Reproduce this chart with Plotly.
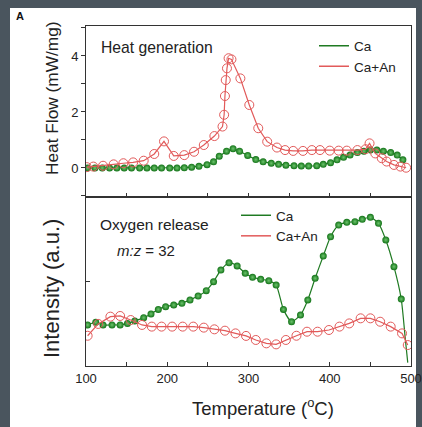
import plotly.graph_objects as go

# ---------------- data ----------------
T_heat_ca = [102,111,120,129,138,147,156,166,175,184,193,203,212,221,230,239,249,257,264,273,
             281,289,299,309,318,328,337,346,356,365,374,384,392,401,409,417,425,434,442,450,
             458,466,475,483,490]
heat_ca = [0,0,0,0,0,0,0,0,0,0,0,0,0,0.01,0.03,0.06,0.12,0.22,0.42,0.6,
           0.69,0.6,0.45,0.3,0.22,0.17,0.13,0.1,0.08,0.07,0.07,0.08,0.13,0.19,0.29,0.38,0.46,0.55,0.6,0.64,
           0.64,0.6,0.55,0.46,0.29]

T_heat_an = [101,109,121,134,146,158,171,184,196,208,221,233,245,258,268,270,271,272,273.5,275.5,
             279,290,301,312,323,335,345,355,367,378,388,400,411,421,434,444,449,456,464,470,
             479,487,494]
heat_an = [0.03,0.05,0.08,0.13,0.17,0.2,0.26,0.5,0.95,0.43,0.46,0.58,0.82,1.14,1.48,1.9,2.57,3.14,3.56,3.92,
           3.88,3.2,2.25,1.42,0.94,0.73,0.64,0.61,0.61,0.64,0.64,0.62,0.62,0.62,0.64,0.67,0.88,0.52,0.35,0.23,
           0.11,0.05,0.01]

T_o2_ca = [102,112,121,132,142,151,160,171,180,189,198,208,218,228,238,248,257,266,276,286,
           296,305,315,325,334,343,353,364,373,382,392,401,411,421,431,440,450,460,469,479,
           488,493,496]
o2_ca = [2.43,2.59,2.43,2.43,2.43,2.52,2.66,2.86,3.08,3.35,3.51,3.61,3.71,3.91,4.14,4.46,4.99,5.68,6.11,5.92,
         5.49,5.25,5.13,5.05,4.79,3.35,2.62,3.02,3.91,5.19,6.51,7.65,8.34,8.5,8.54,8.68,8.8,8.44,7.46,5.88,
         3.96,1.6,0.2]

T_o2_an = [102,115,130,142,155,169,181,193,206,219,232,245,258,271,284,297,309,322,334,346,
           359,372,385,399,412,424,438,450,462,475,489,496]
o2_an = [1.79,2.49,2.92,2.96,2.72,2.43,2.33,2.33,2.33,2.33,2.33,2.27,2.17,2.09,1.93,1.78,1.54,1.34,1.28,1.54,
         1.79,2.03,2.03,2.13,2.33,2.52,2.82,2.82,2.62,2.33,1.93,1.24]

series_names = ["Ca", "Ca+An"]
x_ticks = [100, 150, 200, 250, 300, 350, 400, 450, 500]
x_ticklabels = ["100", "", "200", "", "300", "", "400", "", "500"]
y_heat_ticks = [-1, 0, 1, 2, 3, 4, 5]
y_heat_labels = ["", "0", "", "2", "", "4", ""]

# ---------------- style ----------------
FONT = "Liberation Sans, Arial, sans-serif"
GREEN_LINE = "#1f7a22"
GREEN_MK = "#137318"
GREEN_HI = "#6cc46c"
RED = "#e25a5a"
AX = "#333333"
TXT = "#222222"

fig = go.Figure()

def green_markers(x, y, xa, ya):
    return go.Scatter(x=x, y=y, xaxis=xa, yaxis=ya, mode="markers", showlegend=False,
                      marker=dict(size=7, color=GREEN_MK,
                                  gradient=dict(type="radial", color=GREEN_HI),
                                  line=dict(width=0)))

# upper panel
fig.add_trace(go.Scatter(x=T_heat_ca, y=heat_ca, xaxis="x", yaxis="y", mode="lines",
                         line=dict(color=GREEN_LINE, width=1.2), showlegend=False))
fig.add_trace(green_markers(T_heat_ca, heat_ca, "x", "y"))
fig.add_trace(go.Scatter(x=T_heat_an, y=heat_an, xaxis="x", yaxis="y", mode="lines+markers",
                         line=dict(color=RED, width=1.2), showlegend=False,
                         marker=dict(symbol="circle-open", size=9, color=RED, line=dict(width=1))))

# lower panel
fig.add_trace(go.Scatter(x=T_o2_ca, y=o2_ca, xaxis="x2", yaxis="y2", mode="lines",
                         line=dict(color=GREEN_LINE, width=1.2, shape="spline", smoothing=0.6),
                         showlegend=False))
fig.add_trace(green_markers(T_o2_ca[:-2], o2_ca[:-2], "x2", "y2"))
fig.add_trace(go.Scatter(x=T_o2_an, y=o2_an, xaxis="x2", yaxis="y2", mode="lines+markers",
                         line=dict(color=RED, width=1.2), showlegend=False,
                         marker=dict(symbol="circle-open", size=9, color=RED, line=dict(width=1))))

# legend entries (line only)
for lg in ["legend", "legend2"]:
    for name, col in zip(series_names, [GREEN_LINE, RED]):
        fig.add_trace(go.Scatter(x=[None], y=[None], mode="lines", name=name,
                                 line=dict(color=col, width=1.5), legend=lg,
                                 marker=dict(size=1, opacity=0),
                                 xaxis="x" if lg == "legend" else "x2",
                                 yaxis="y" if lg == "legend" else "y2"))

L, R, T, B = 86, 11, 26, 61
W, H = 422, 427
ph = H - T - B
pw = W - L - R
split = (366 - 197) / ph

def px2x(px):
    return (px - L) / pw

def py2y(py):
    return (H - B - py) / ph

axis_common = dict(showline=True, linecolor=AX, linewidth=1, mirror=True,
                   showgrid=False, zeroline=False, tickcolor=AX,
                   tickfont=dict(family=FONT, size=13, color=TXT))

fig.update_layout(
    width=W, height=H, autosize=False,
    margin=dict(l=L, r=R, t=T, b=B, pad=0, autoexpand=False),
    paper_bgcolor="#4a555e",
    plot_bgcolor="white",
    font=dict(family=FONT, color=TXT),
    xaxis=dict(domain=[0, 1], range=[100, 500], anchor="y", tickvals=x_ticks,
               showticklabels=False, ticks="inside", ticklen=4, **axis_common),
    yaxis=dict(domain=[split, 1], range=[-1.036, 5.071], anchor="x", tickvals=y_heat_ticks,
               ticktext=y_heat_labels, ticks="outside", ticklen=4, **axis_common),
    xaxis2=dict(domain=[0, 1], range=[100, 500], anchor="y2", tickvals=x_ticks,
                ticktext=x_ticklabels, ticks="inside", ticklen=4, **axis_common),
    yaxis2=dict(domain=[0, split], range=[0, 10], anchor="x2", tickvals=[5],
                showticklabels=False, ticks="inside", ticklen=4, **axis_common),
    legend=dict(x=px2x(314), y=py2y(30.5), xanchor="left", yanchor="top",
                bgcolor="rgba(0,0,0,0)", font=dict(family=FONT, size=13.5, color=TXT),
                itemwidth=30, tracegroupgap=0),
    legend2=dict(x=px2x(236), y=py2y(200), xanchor="left", yanchor="top",
                 bgcolor="rgba(0,0,0,0)", font=dict(family=FONT, size=13.5, color=TXT),
                 itemwidth=30, tracegroupgap=0),
    shapes=[dict(type="rect", xref="paper", yref="paper", layer="below",
                 x0=px2x(10), x1=px2x(416), y0=py2y(430), y1=py2y(8),
                 fillcolor="white", line=dict(width=0))],
    annotations=[
        dict(text="<b>A</b>", x=px2x(19.5), y=py2y(16), xref="paper", yref="paper",
             xanchor="center", yanchor="middle",
             showarrow=False, font=dict(family=FONT, size=11, color="#111")),
        dict(text="Heat generation", x=px2x(99), y=py2y(47.5), xref="paper", yref="paper",
             xanchor="left", yanchor="middle", showarrow=False,
             font=dict(family=FONT, size=15.7, color=TXT)),
        dict(text="Oxygen release", x=px2x(98), y=py2y(225), xref="paper", yref="paper",
             xanchor="left", yanchor="middle", showarrow=False,
             font=dict(family=FONT, size=15.5, color=TXT)),
        dict(text="<i>m:z</i> = 32", x=px2x(115), y=py2y(250), xref="paper", yref="paper",
             xanchor="left", yanchor="middle", showarrow=False,
             font=dict(family=FONT, size=15, color=TXT)),
        dict(text="Temperature (<sup>o</sup>C)", x=px2x(263), y=py2y(407), xref="paper", yref="paper",
             xanchor="center", yanchor="middle", showarrow=False,
             font=dict(family=FONT, size=18.5, color=TXT)),
        dict(text="Heat Flow (mW/mg)", x=px2x(52), y=py2y(98), xref="paper", yref="paper",
             xanchor="center", yanchor="middle", showarrow=False, textangle=-90,
             font=dict(family=FONT, size=17.3, color=TXT)),
        dict(text="Intensity (a.u.)", x=px2x(51), y=py2y(289), xref="paper", yref="paper",
             xanchor="center", yanchor="middle", showarrow=False, textangle=-90,
             font=dict(family=FONT, size=22, color=TXT)),
    ],
)

fig.write_html("out.html",
               config={"displayModeBar": False, "responsive": False},
               post_script="document.body.style.margin='0';document.body.style.overflow='hidden';")
